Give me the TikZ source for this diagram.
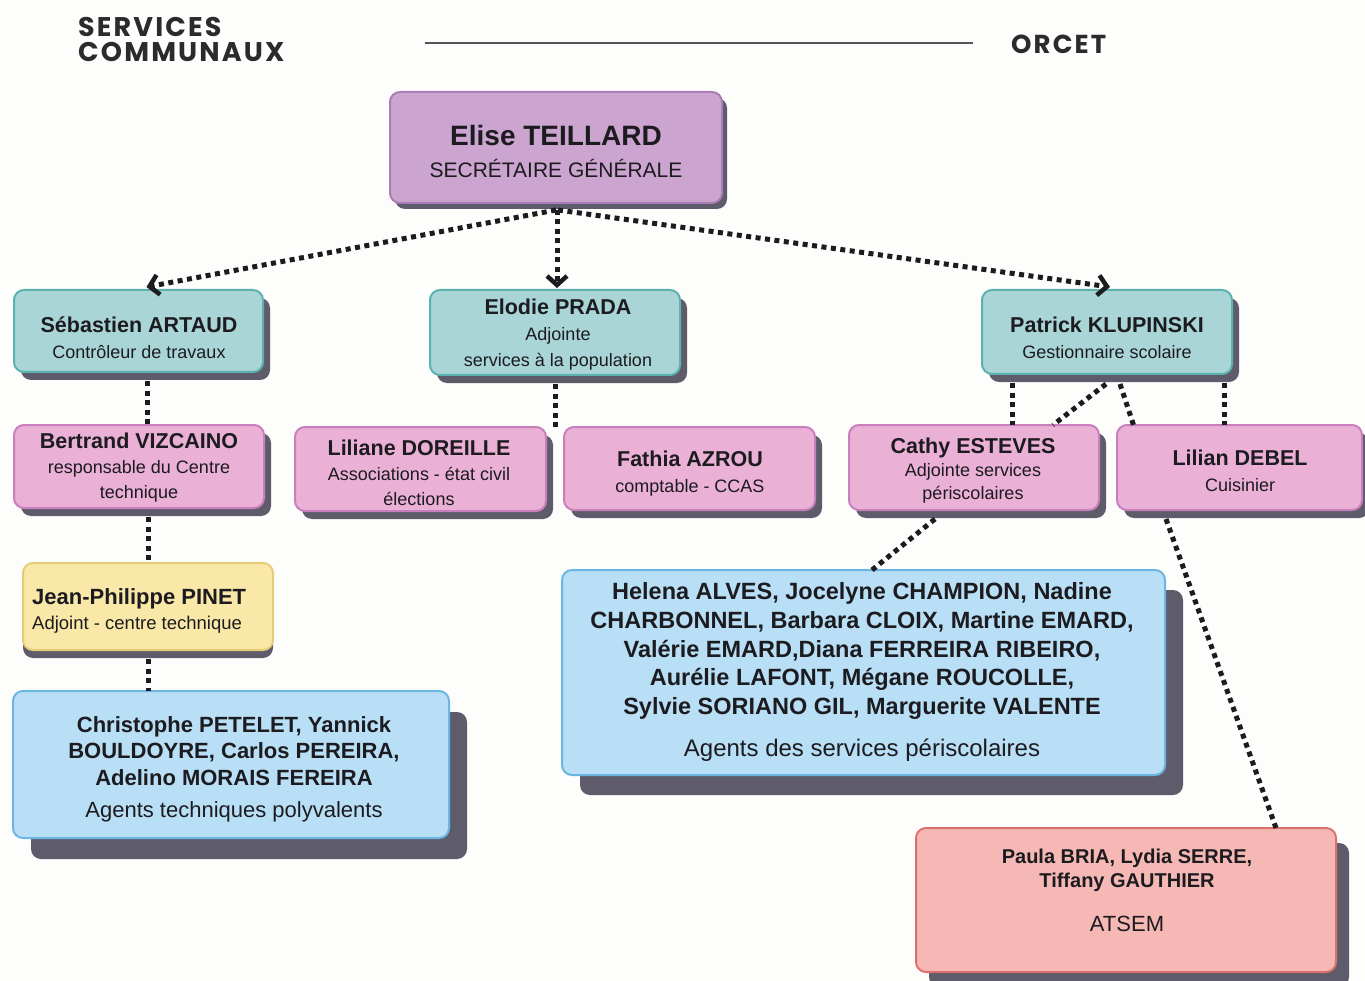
\documentclass[tikz,border=0pt]{standalone}
\usepackage{fontspec}
\setmainfont{Liberation Sans}
\newfontfamily\headfont[LetterSpace=8]{Poppins}
\usetikzlibrary{arrows.meta,shadows,calc}
\definecolor{bgc}{HTML}{FDFDFC}
\definecolor{shc}{HTML}{5E5C6B}
\definecolor{purf}{HTML}{CBA4CF}\definecolor{purd}{HTML}{A97DB6}
\definecolor{tealf}{HTML}{A9D5D6}\definecolor{teald}{HTML}{5CB2AF}
\definecolor{pinkf}{HTML}{EAB0D6}\definecolor{pinkd}{HTML}{C97FBC}
\definecolor{yelf}{HTML}{F9E8A7}\definecolor{yeld}{HTML}{E5CD78}
\definecolor{bluef}{HTML}{B9DFF6}\definecolor{blued}{HTML}{6CB6E4}
\definecolor{salf}{HTML}{F5B8B5}\definecolor{sald}{HTML}{DB716D}
\definecolor{ink}{HTML}{1C1B1F}
\definecolor{headc}{HTML}{2B2B2B}
\newcommand\nm[1]{{\fontsize{21.5}{26}\selectfont\bfseries #1}}
\tikzset{
  box/.style={draw, rounded corners=10pt, line width=2pt, inner sep=0pt, outer sep=0pt},
  sh/.style 2 args={general shadow={fill=shc, shadow xshift=#1, shadow yshift=#2}},
  purbox/.style={box, fill=purf, draw=purd},
  tealbox/.style={box, fill=tealf, draw=teald},
  pinkbox/.style={box, fill=pinkf, draw=pinkd},
  yelbox/.style={box, fill=yelf, draw=yeld},
  bluebox/.style={box, fill=bluef, draw=blued},
  salbox/.style={box, fill=salf, draw=sald},
  txt/.style={text=ink, align=center, inner sep=0pt},
  dotline/.style={draw=ink, line width=5pt, dash pattern=on 5pt off 4.5pt},
  arr/.style={dotline, -{Straight Barb[length=9pt,width=20pt,line width=4.5pt]}},
}
\begin{document}
\begin{tikzpicture}[x=1pt,y=-1pt]
\fill[bgc] (0,0) rectangle (1365,981);
\useasboundingbox (0,0) rectangle (1365,981);

% header
\node[anchor=west, align=left, text=headc, inner sep=0pt,
      font=\headfont\bfseries\fontsize{27}{25}\selectfont] (hdr) at (78,39) {SERVICES\\COMMUNAUX};
\node[anchor=west, text=headc, inner sep=0pt,
      font=\headfont\bfseries\fontsize{26}{26}\selectfont] (orcet) at (1011,44) {ORCET};
\coordinate (hla) at (425,43);
\coordinate (hlb) at (973,43);
\draw[line width=1.8pt, draw=headc!80] (hla) -- (hlb);

% boxes
\node[purbox, sh={5pt}{-6pt}, minimum width=332pt, minimum height=111pt] (elise) at (556,147.5) {};
\node[tealbox, sh={7pt}{-8pt}, minimum width=249pt, minimum height=82pt] (seb) at (138.5,331) {};
\node[tealbox, sh={7pt}{-8pt}, minimum width=250pt, minimum height=85pt] (elodie) at (555,332.5) {};
\node[tealbox, sh={7pt}{-8pt}, minimum width=250pt, minimum height=84pt] (pat) at (1107,332) {};
\node[pinkbox, sh={7pt}{-8pt}, minimum width=250pt, minimum height=83pt] (bert) at (139,466.5) {};
\node[pinkbox, sh={7pt}{-8pt}, minimum width=251pt, minimum height=84pt] (lili) at (420.5,469) {};
\node[pinkbox, sh={7pt}{-8pt}, minimum width=251pt, minimum height=83pt] (fath) at (689.5,468.5) {};
\node[pinkbox, sh={7pt}{-8pt}, minimum width=250pt, minimum height=85pt] (cathy) at (974,467.5) {};
\node[pinkbox, sh={7pt}{-8pt}, minimum width=245pt, minimum height=85pt] (lilian) at (1239.5,467.5) {};
\node[yelbox, sh={0pt}{-8pt}, minimum width=250pt, minimum height=87pt] (jp) at (148,606.5) {};
\node[bluebox, sh={18pt}{-21pt}, minimum width=436pt, minimum height=147pt] (chris) at (231,764.5) {};
\node[bluebox, sh={18pt}{-20pt}, minimum width=603pt, minimum height=205pt] (helena) at (863.5,672.5) {};
\node[salbox, sh={13pt}{-15pt}, minimum width=420pt, minimum height=144pt] (paula) at (1126,900) {};

% texts
\node[txt, font=\fontsize{21}{32}\selectfont] (eliset) at (556,151)
  {{\fontsize{28}{32}\selectfont\bfseries Elise TEILLARD}\\SECRÉTAIRE GÉNÉRALE};
\node[txt, font=\fontsize{18}{26}\selectfont] (sebt) at (139,337.5)
  {\nm{Sébastien ARTAUD}\\Contrôleur de travaux};
\node[txt, font=\fontsize{18}{26}\selectfont] (elodiet) at (558,334.5)
  {\nm{Elodie PRADA}\\Adjointe\\services à la population};
\node[txt, font=\fontsize{18}{26}\selectfont] (patt) at (1107,337.5)
  {\nm{Patrick KLUPINSKI}\\Gestionnaire scolaire};
\node[txt, font=\fontsize{18}{25}\selectfont] (bertt) at (139,468)
  {\nm{Bertrand VIZCAINO}\\responsable du Centre\\technique};
\node[txt, font=\fontsize{18}{25}\selectfont] (lilit) at (419,473)
  {\nm{Liliane DOREILLE}\\Associations - état civil\\élections};
\node[txt, font=\fontsize{18}{26}\selectfont] (fatht) at (690,474)
  {\nm{Fathia AZROU}\\comptable - CCAS};
\node[txt, font=\fontsize{18}{23}\selectfont] (cathyt) at (973,470.5)
  {\nm{Cathy ESTEVES}\\Adjointe services\\périscolaires};
\node[txt, font=\fontsize{18}{26}\selectfont] (liliant) at (1240,471)
  {\nm{Lilian DEBEL}\\Cuisinier};
\node[txt, align=left, anchor=west, font=\fontsize{18.5}{25}\selectfont] (jpt) at (32,611)
  {{\fontsize{22}{25}\selectfont\bfseries Jean-Philippe PINET}\\Adjoint - centre technique};
\node[txt, font=\fontsize{22}{26.5}\selectfont] (christ) at (234,769)
  {\bfseries Christophe PETELET, Yannick\\\bfseries BOULDOYRE, Carlos PEREIRA,\\\bfseries Adelino MORAIS FEREIRA\\[5.5pt]Agents techniques polyvalents};
\node[txt, font=\fontsize{23.5}{28.75}\selectfont] (helenat) at (862,672)
  {\bfseries Helena ALVES, Jocelyne CHAMPION, Nadine\\\bfseries CHARBONNEL, Barbara CLOIX, Martine EMARD,\\\bfseries Valérie EMARD,Diana FERREIRA RIBEIRO,\\\bfseries Aurélie LAFONT, Mégane ROUCOLLE,\\\bfseries Sylvie SORIANO GIL, Marguerite VALENTE\\[13pt]{\fontsize{24}{28.75}\selectfont Agents des services périscolaires}};
\node[txt, font=\fontsize{20}{24}\selectfont] (paulat) at (1127,890)
  {\bfseries Paula BRIA, Lydia SERRE,\\\bfseries Tiffany GAUTHIER\\[20pt]{\fontsize{22}{24}\selectfont ATSEM}};

% connectors from Elise
\draw[arr] ([yshift=-7pt]elise.south) -- ([xshift=8pt,yshift=3pt]seb.north);
\draw[arr] ([xshift=1pt,yshift=-7pt]elise.south) -- ([xshift=2pt,yshift=2pt]elodie.north);
\draw[arr] ([xshift=2pt,yshift=-7pt]elise.south) -- ([xshift=3pt,yshift=3pt]pat.north);

% left column
\draw[dotline] ([xshift=8.5pt,yshift=-9pt]seb.south) -- ([xshift=8pt]bert.north);
\draw[dotline] ([xshift=9pt,yshift=-9pt]bert.south) -- (jp.north);
\draw[dotline] ([yshift=-9pt]jp.south) -- ([xshift=-83pt]chris.north);

% Elodie
\coordinate (elodend) at (555,428);
\draw[dotline] ([yshift=-9pt]elodie.south) -- (elodend);

% Patrick
\draw[dotline] ([xshift=-95pt,yshift=-9pt]pat.south) -- ([xshift=38pt]cathy.north);
\draw[dotline] ([xshift=-1pt,yshift=-10pt]pat.south) -- ([xshift=79pt]cathy.north);
\draw[dotline] ([xshift=13pt,yshift=-10pt]pat.south) -- ([xshift=-106pt]lilian.north);
\draw[dotline] ([xshift=117pt,yshift=-9pt]pat.south) -- ([xshift=-15.5pt]lilian.north);

% lower
\draw[dotline] ([xshift=-39pt,yshift=-9pt]cathy.south) -- ([xshift=8.5pt]helena.north);
\draw[dotline] ([xshift=-73.5pt,yshift=-9pt]lilian.south) -- ([xshift=150pt]paula.north);
\end{tikzpicture}
\end{document}
